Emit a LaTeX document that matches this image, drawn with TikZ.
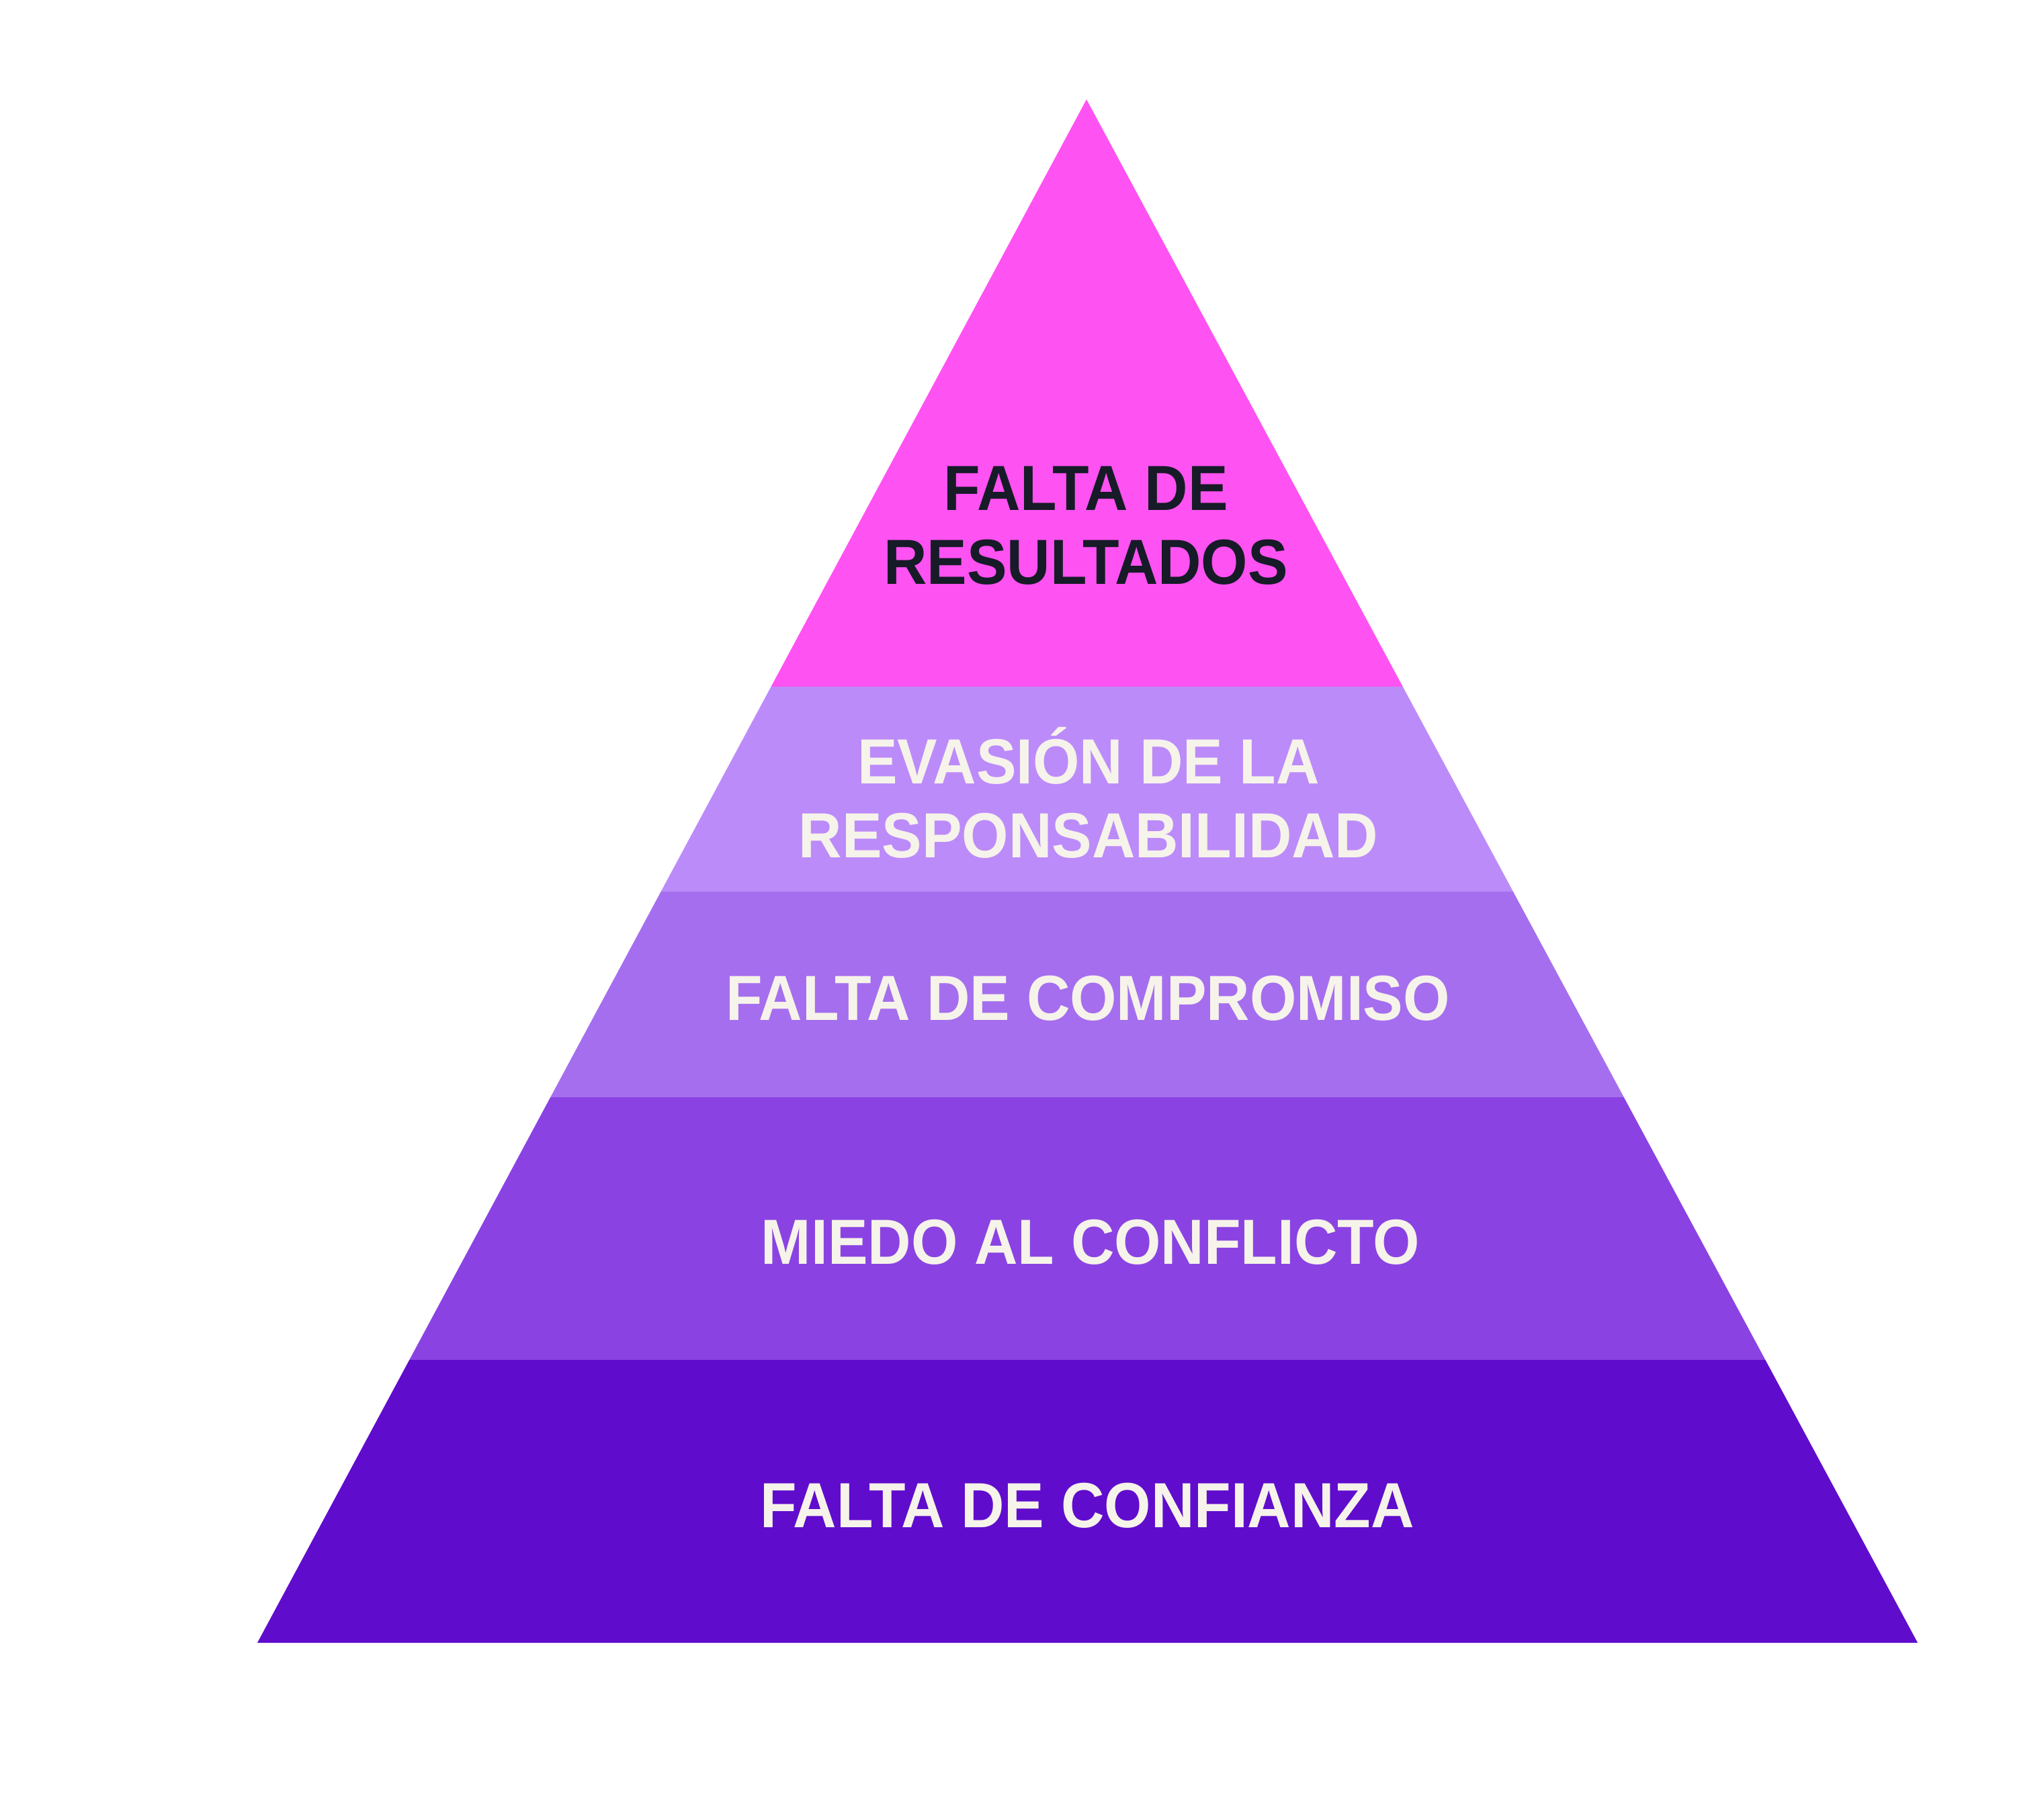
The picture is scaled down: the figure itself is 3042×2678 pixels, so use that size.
\documentclass[tikz,border=0pt]{standalone}
\usepackage{fontspec}
\setmainfont{Liberation Sans}[FakeStretch=0.94]
\usepackage{xcolor}

\definecolor{topPink}{HTML}{FF52F2}
\definecolor{lilacA}{HTML}{BC8BFA}
\definecolor{lilacB}{HTML}{A56EEE}
\definecolor{violetA}{HTML}{8A43E2}
\definecolor{violetB}{HTML}{600CCD}
\definecolor{cream}{HTML}{F6F3EA}
\definecolor{inkDark}{HTML}{161B27}

\tikzset{
  band/.style={draw=none},
  lbl/.style={align=center,text=cream,font=\fontsize{27}{31.3}\selectfont\bfseries,inner sep=0pt}
}

\begin{document}
\begin{tikzpicture}[x=0.01cm,y=-0.01cm]
%\draw[step=100,gray,very thin] (0,0) grid (3042,2678); %background grid
\useasboundingbox (0,0) rectangle (3042,2678);

\fill[band,topPink] (1617,148) -- (2087.7,1022) -- (1147.5,1022) -- cycle;
\fill[band,lilacA] (1147.5,1022) -- (2087.7,1022) -- (2251.9,1327) -- (983.6,1327) -- cycle;
\fill[band,lilacB] (983.6,1327) -- (2251.9,1327) -- (2416.7,1633) -- (819.2,1633) -- cycle;
\fill[band,violetA] (819.2,1633) -- (2416.7,1633) -- (2627.3,2024) -- (609.2,2024) -- cycle;
\fill[band,violetB] (609.2,2024) -- (2627.3,2024) -- (2854,2445) -- (383,2445) -- cycle;

\node[lbl,text=inkDark] (resultados) at (1616,782) {FALTA DE\\RESULTADOS};
\node[lbl] (responsab) at (1620,1180) {EVASIÓN DE LA\\RESPONSABILIDAD};
\node[lbl] (compromiso) at (1619,1486) {FALTA DE COMPROMISO};
\node[lbl] (conflicto) at (1623,1849) {MIEDO AL CONFLICTO};
\node[lbl] (confianza) at (1618,2241) {FALTA DE CONFIANZA};
\end{tikzpicture}
\end{document}
